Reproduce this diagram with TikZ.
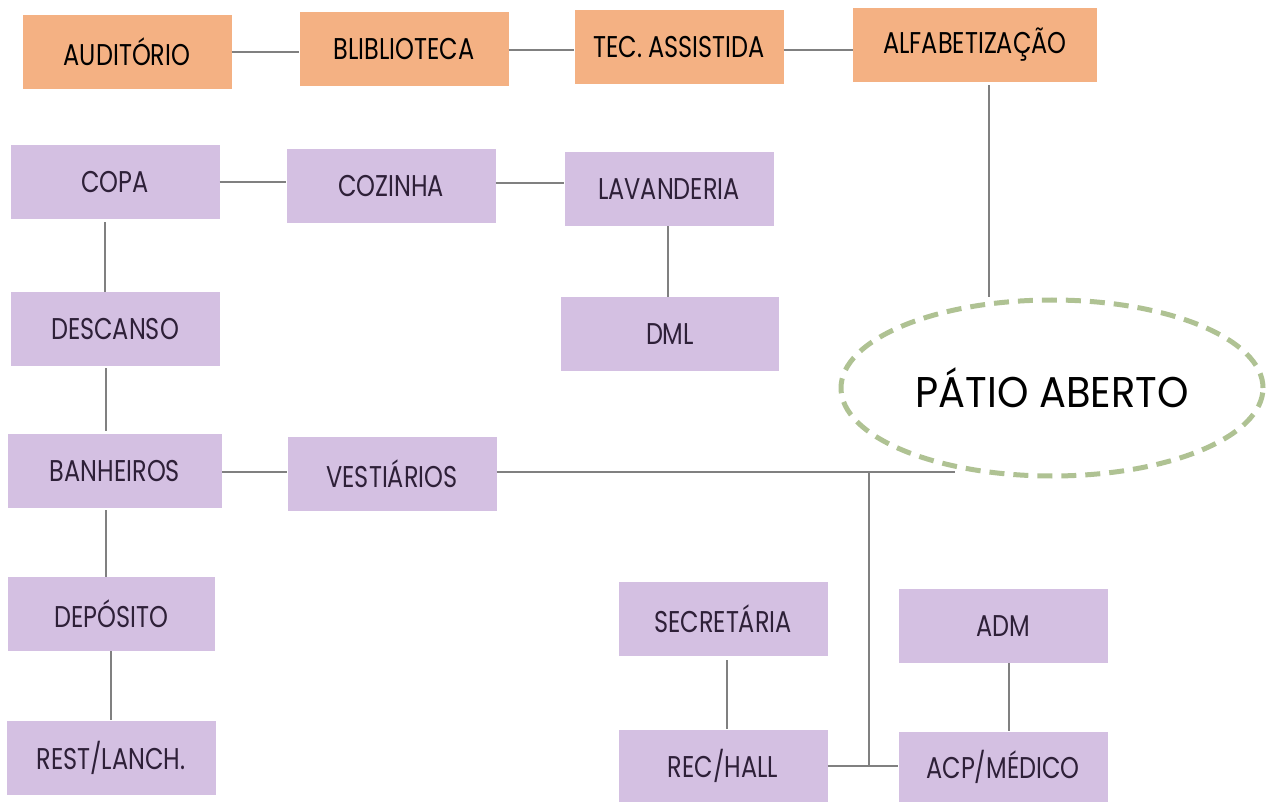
\documentclass[tikz,border=0pt]{standalone}
\usepackage{fontspec}
\setmainfont{Poppins}[FakeStretch=0.8]
\newfontfamily\patiofont{Poppins}[FakeStretch=0.93]
\usetikzlibrary{shapes.geometric,positioning}
\definecolor{salmao}{HTML}{F4B183}
\definecolor{lilas}{HTML}{D4C0E2}
\definecolor{roxoescuro}{HTML}{2E2038}
\definecolor{verdepatio}{HTML}{AFC293}
\definecolor{cinzalinha}{HTML}{808080}
\tikzset{
sala/.style={ rectangle, minimum width=209pt, minimum height=74pt, inner sep=0pt, text centered, font=\fontsize{30}{36}\selectfont},
laranja/.style={ sala, fill=salmao, text=black},
roxo/.style={ sala, fill=lilas, text=roxoescuro},
patio/.style={ ellipse, draw=verdepatio, line width=5pt, dash pattern=on 15pt off 9pt, minimum width=422pt, minimum height=176pt, font=\patiofont\fontsize{43}{50}\selectfont},
line/.style={draw=cinzalinha, line width=2.5pt},
}
\begin{document}
\begin{tikzpicture}
[x=1pt, y=-1pt]
\useasboundingbox (0,0) rectangle (1275,802);

% bloco superior
\node[laranja] (aud) at (127,52) {AUDITÓRIO};
\node[laranja] (blib) at (404,49) {BLIBLIOTECA};
\node[laranja] (tec) at (679,47) {TEC. ASSISTIDA};
\node[laranja, minimum width=244pt] (alf) at (975,45) {ALFABETIZAÇÃO};

% servicos
\node[roxo] (copa) at (115,182) {COPA};
\node[roxo] (coz) at (391,186) {COZINHA};
\node[roxo] (lav) at (669,189) {LAVANDERIA};
\node[roxo, minimum width=218pt] (dml) at (670,334) {DML};
\node[roxo] (desc) at (115,329) {DESCANSO};
\node[roxo, minimum width=214pt] (banh) at (115,471) {BANHEIROS};
\node[roxo] (vest) at (392,474) {VESTIÁRIOS};
\node[roxo, minimum width=207pt] (dep) at (111,614) {DEPÓSITO};
\node[roxo] (rest) at (111,758) {REST/LANCH.};

% administracao
\node[roxo] (sec) at (723,619) {SECRETÁRIA};
\node[roxo, minimum height=72pt] (rec) at (723,766) {REC/HALL};
\node[roxo] (adm) at (1003,626) {ADM};
\node[roxo, minimum height=70pt] (acp) at (1003,767) {ACP/MÉDICO};

\node[patio] (pat) at (1052,388) {PÁTIO ABERTO};

\coordinate (vfim) at (955,472);
\coordinate (junc) at (869,472);

% ligacoes
\draw[line] (aud.east |- 0,52) -- (blib.west |- 0,52);
\draw[line] (blib.east |- 0,50) -- (tec.west |- 0,50);
\draw[line] (tec.east |- 0,50) -- (alf.west |- 0,50);
\draw[line] ([xshift=14pt, yshift=-3pt]alf.south) -- ([xshift=14pt]alf.south |- pat.north);
\draw[line] (copa.east |- 0,182) -- (coz.west |- 0,182);
\draw[line] (coz.east |- 0,183) -- (lav.west |- 0,183);
\draw[line] (lav.south -| 668,0) -- (dml.north -| 668,0);
\draw[line] ([yshift=-3pt]copa.south -| 105,0) -- (desc.north -| 105,0);
\draw[line] ([yshift=-2pt]desc.south -| 106,0) -- ([yshift=3pt]banh.north -| 106,0);
\draw[line] (banh.east |- 0,472) -- (vest.west |- 0,472);
\draw[line] ([yshift=-2pt]banh.south -| 106,0) -- (dep.north -| 106,0);
\draw[line] (dep.south -| 111,0) -- ([yshift=1pt]rest.north -| 111,0);
\draw[line] (vest.east |- vfim) -- (vfim);
\draw[line] (junc) -- (junc |- 0,766);
\draw[line] (rec.east |- 0,766) -- (acp.west |- 0,766);
\draw[line] ([yshift=-4pt]sec.south -| 727,0) -- ([yshift=1pt]rec.north -| 727,0);
\draw[line] (adm.south -| 1009,0) -- ([yshift=1pt]acp.north -| 1009,0);

\end{tikzpicture}
\end{document}
